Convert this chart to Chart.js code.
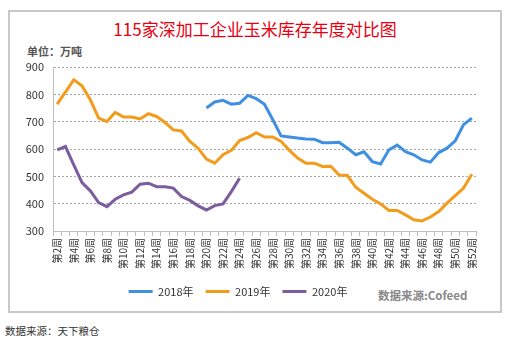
<!DOCTYPE html>
<html>
<head>
<meta charset="utf-8">
<script src="https://cdn.jsdelivr.net/npm/chart.js@4.4.0/dist/chart.umd.min.js"></script>
<style>
  body { margin: 0; background: #fff; width: 510px; height: 340px; position: relative; overflow: hidden; font-family: "Noto Sans CJK SC", sans-serif; }
  .frame { position: absolute; left: 8px; top: 10px; width: 490px; height: 299px; border: 2px solid #c8c8c8; }
  .title { position: absolute; left: 0; width: 510px; top: 16px; text-align: center; font-size: 17px; color: #e60012; }
  .unit { position: absolute; left: 27px; top: 43px; font-size: 11px; color: #555; font-weight: bold; }
  .src { position: absolute; left: 378px; top: 287px; font-size: 11.5px; color: #888; font-weight: bold; }
  .foot { position: absolute; left: 5px; top: 323px; font-size: 10.5px; color: #333; }
  #wrap { position: absolute; left: 0; top: 0; width: 510px; height: 340px; }
</style>
</head>
<body>
<div class="frame"></div>
<div class="title">115家深加工企业玉米库存年度对比图</div>
<div class="unit">单位：万吨</div>
<div class="src">数据来源:Cofeed</div>
<div class="foot">数据来源：天下粮仓</div>
<div id="wrap"><canvas id="chart" width="510" height="340"></canvas></div>
<script>
// weeks 2..52
const weeks = Array.from({ length: 51 }, (_, i) => '第' + (i + 2) + '周');

const stock2018 = [null, null, null, null, null, null, null, null, null, null, null, null, null, null, null, null, null, null,
  750, 772, 778, 764, 767, 796, 784, 764, 707, 648, 644, 640, 637, 636, 623, 623,
  625, 603, 579, 590, 554, 545, 597, 614, 590, 579, 560, 552, 587, 603, 630, 689, 713];

const stock2019 = [764, 808, 853, 831, 780, 713, 701, 734, 717, 717, 710, 729, 719, 697, 670, 666, 628,
  603, 563, 548, 579, 595, 631, 642, 660, 644, 644, 628, 595, 567, 548, 548, 536, 537,
  505, 503, 460, 438, 416, 399, 375, 375, 359, 341, 337, 351, 371, 402, 429, 457, 508];

const stock2020 = [597, 609, 542, 477, 447, 404, 389, 416, 432, 442, 471, 475, 462, 462, 457, 426, 412,
  392, 377, 393, 399, 444, 493];

const seriesNames = ['2018年', '2019年', '2020年'];
const seriesColors = ['#3f8fe3', '#f39b1b', '#7b5c9e'];

Chart.defaults.font.family = '"Noto Sans CJK SC", "Liberation Sans", sans-serif';

const ctx = document.getElementById('chart').getContext('2d');
new Chart(ctx, {
  type: 'line',
  data: {
    labels: weeks,
    datasets: [stock2018, stock2019, stock2020].map((d, i) => ({
      label: seriesNames[i],
      data: d,
      borderColor: seriesColors[i],
      backgroundColor: seriesColors[i],
      borderWidth: 3,
      pointRadius: 0,
      tension: 0,
      fill: false,
    })),
  },
  options: {
    responsive: false,
    animation: false,
    layout: { padding: { left: 0, right: 34, top: 67, bottom: 33 } },
    plugins: {
      legend: {
        position: 'bottom',
        labels: {
          usePointStyle: true,
          pointStyle: 'line',
          pointStyleWidth: 24,
          color: '#333',
          font: { size: 11 },
          padding: 12,
        },
      },
      tooltip: { enabled: false },
    },
    scales: {
      x: {
        offset: true,
        grid: { offset: true, drawOnChartArea: false, drawTicks: true, tickLength: 5, color: '#bfbfbf' },
        border: { color: '#bfbfbf' },
        ticks: {
          autoSkip: false,
          minRotation: 90,
          maxRotation: 90,
          padding: 2,
          color: '#333',
          font: { size: 10 },
          callback: function (v, i) { return i % 2 === 0 ? this.getLabelForValue(v) : ''; },
        },
        afterFit: (s) => { s.height = 43; },
      },
      y: {
        min: 300,
        max: 900,
        ticks: { stepSize: 100, padding: 9, color: '#333', font: { size: 11 } },
        grid: { drawTicks: false, color: '#a6a6a6' },
        border: { dash: [2, 2], color: '#bfbfbf' },
        afterFit: (s) => { s.width = 53; },
      },
    },
  },
});
</script>
</body>
</html>
